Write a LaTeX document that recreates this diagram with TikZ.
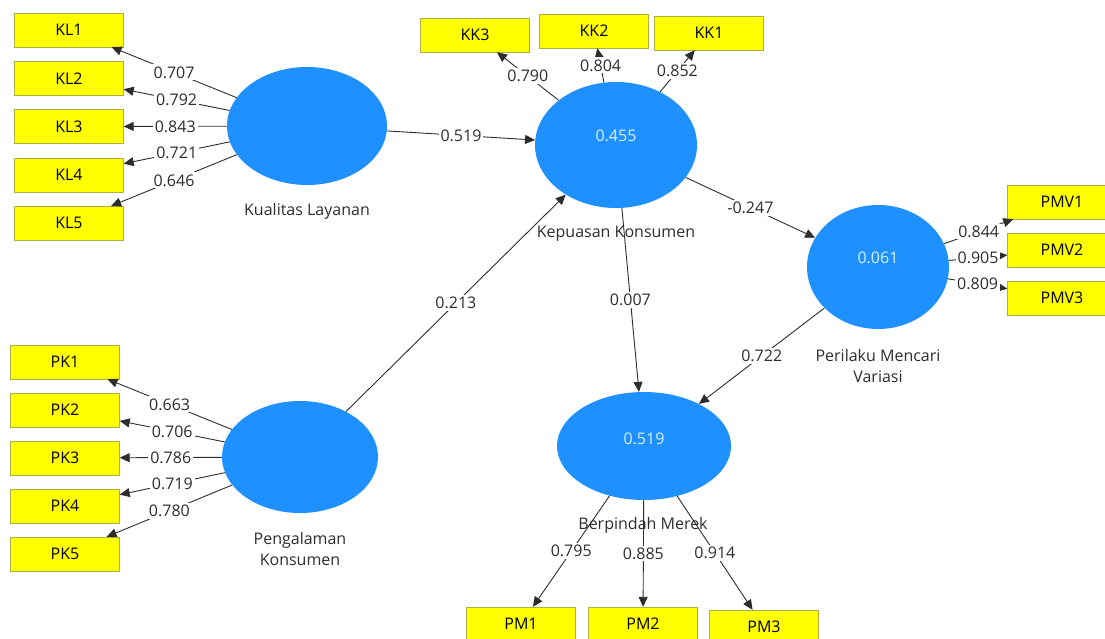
\documentclass[tikz,border=0pt]{standalone}
\usepackage{fontspec}
\setmainfont{Open Sans}
\usetikzlibrary{shapes.geometric,arrows.meta}
\definecolor{lvblue}{RGB}{30,144,255}
\definecolor{indyellow}{RGB}{255,255,0}
\definecolor{indedge}{RGB}{175,175,70}
\definecolor{rsqtext}{RGB}{215,240,255}
\definecolor{txtgray}{RGB}{45,45,45}
\begin{document}
\begin{tikzpicture}[x=1pt,y=-1pt,font=\fontsize{16}{21}\selectfont,
    latent/.style={ellipse, fill=lvblue, inner sep=0pt},
    ind/.style={draw=indedge, fill=indyellow, minimum width=109pt, minimum height=34pt, inner sep=0pt},
    load/.style={draw=txtgray, line width=0.9pt, -{Triangle[width=9pt,length=10pt]}},
    val/.style={fill=white, inner sep=2pt, text=txtgray},
    rsq/.style={text=rsqtext, yshift=9pt},
    lvname/.style={text=txtgray, align=center}]
  \clip (0,0) rectangle (1105,639);
  % latent variables
  \node[latent, minimum width=160pt, minimum height=118pt] (kl) at (307,126) {};
  \node[latent, minimum width=162pt, minimum height=126pt] (kk) at (616,145) {};
  \node[latent, minimum width=142pt, minimum height=124pt] (pmv) at (878,267) {};
  \node[latent, minimum width=156pt, minimum height=112pt] (pk) at (300,457) {};
  \node[latent, minimum width=174pt, minimum height=108pt] (pm) at (644,446) {};
  \node[rsq] (kkrsq) at (kk) {0.455};
  \node[rsq] (pmvrsq) at (pmv) {0.061};
  \node[rsq, yshift=-2pt] (pmrsq) at (pm) {0.519};
  \node[lvname] (klname) at (307,211) {Kualitas Layanan};
  \node[lvname] (kkname) at (616,234) {Kepuasan Konsumen};
  \node[lvname] (pmvname) at (878,366) {Perilaku Mencari\\Variasi};
  \node[lvname] (pkname) at (300,549) {Pengalaman\\Konsumen};
  \node[lvname] (pmname) at (643,525) {Berpindah Merek};
  % indicators
  \foreach \v [count=\i] in {0.707,0.792,0.843,0.721,0.646} {
    \node[ind] (kl\i) at (69,{30+48.3*(\i-1)}) {KL\i};
    \draw[load] (kl) -- node[val] {\v} (kl\i);
  }
  \foreach \v [count=\i] in {0.663,0.706,0.786,0.719,0.780} {
    \node[ind] (pk\i) at (65,{362+48*(\i-1)}) {PK\i};
    \draw[load] (pk) -- node[val] {\v} (pk\i);
  }
  \foreach \v/\x/\y [count=\i] in {0.852/709/33,0.804/594/31,0.790/475/35} {
    \node[ind] (kk\i) at (\x,\y) {KK\i};
    \draw[load] (kk) -- node[val] {\v} (kk\i);
  }
  \foreach \v [count=\i] in {0.844,0.905,0.809} {
    \node[ind] (pmv\i) at (1062,{202+48*(\i-1)}) {PMV\i};
    \draw[load] (pmv) -- node[val] {\v} (pmv\i);
  }
  \foreach \v/\x/\y [count=\i] in {0.795/521/624,0.885/643/624,0.914/764/627} {
    \node[ind] (pm\i) at (\x,\y) {PM\i};
    \draw[load] (pm) -- node[val] {\v} (pm\i);
  }
  % structural paths
  \draw[load] (kl) -- node[val] {0.519} (kk);
  \draw[load] (pk) -- node[val] {0.213} (kk);
  \draw[load] (kk) -- node[val] {-0.247} (pmv);
  \draw[load] (kk) -- node[val] {0.007} (pm);
  \draw[load] (pmv) -- node[val] {0.722} (pm);
\end{tikzpicture}
\end{document}
